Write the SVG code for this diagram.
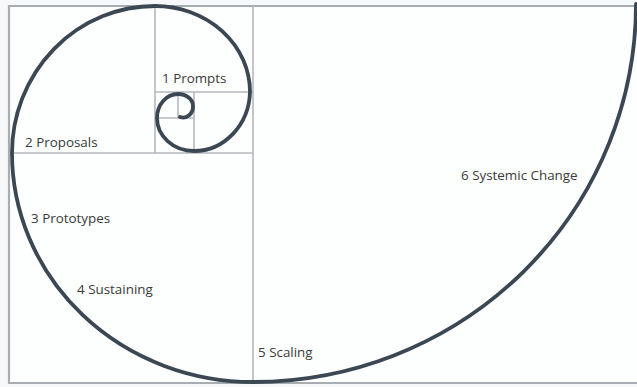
<svg xmlns="http://www.w3.org/2000/svg" width="637" height="387" viewBox="0 0 637 387">
<style>
.grid{stroke:#b4b9bd;stroke-width:1.6;fill:none}
.frame{stroke:#a8adb1;stroke-width:2.2;fill:none}
.spiral{stroke:#3b4853;stroke-width:3.8;fill:none;stroke-linecap:round}
.lbl{font-family:"Open Sans","Noto Sans","Liberation Sans",sans-serif;font-size:13.4px;fill:#3a3a3a}
</style>
<rect x="0" y="0" width="637" height="387" fill="#f6f8f9"/>
<rect x="9" y="6" width="628" height="377" fill="#fdfefe"/>
<g id="grid">
<path class="frame" d="M637 6H9V383H637"/>
<path class="grid" d="M253 6V383M9 153H253M155 6V153M155 92H253M194 92V153M155 118H194M178 92V118"/>
</g>
<g id="connectors">
<path class="spiral" d="M636 4A383 378 0 0 1 253 382A241 229 0 0 1 12 153A143 147 0 0 1 155 6A95 86 0 0 1 250 92A56 61 0 0 1 194 151A37 33 0 0 1 157 118A21 24 0 0 1 178 94A15 12 0 0 1 193 106A10 11 0 0 1 180 117"/>
</g>
<g id="n1"><text class="lbl" x="162" y="83">1 Prompts</text></g>
<g id="n2"><text class="lbl" x="25" y="147">2 Proposals</text></g>
<g id="n3"><text class="lbl" x="31" y="223">3 Prototypes</text></g>
<g id="n4"><text class="lbl" x="77" y="294">4 Sustaining</text></g>
<g id="n5"><text class="lbl" x="258" y="357">5 Scaling</text></g>
<g id="n6"><text class="lbl" x="461" y="180">6 Systemic Change</text></g>
</svg>
